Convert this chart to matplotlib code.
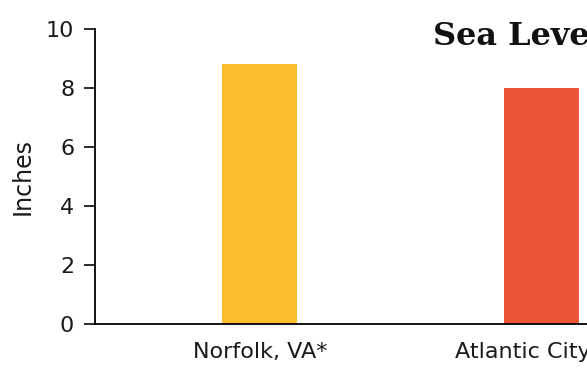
import matplotlib
matplotlib.use('Agg')
import matplotlib.pyplot as plt

# Data
cities = ['Norfolk, VA*', 'Atlantic City, NJ']
rise = [8.8, 8.0]
colors = ['#FDBE2E', '#EC5538']

fig = plt.figure(figsize=(5.87, 3.75), dpi=100)
ax = fig.add_axes([0.1618, 0.136, 1.041, 0.7867])

x = range(len(cities))
ax.bar(x, rise, width=0.266, color=colors)

ax.set_xlim(-0.586, 1.586)
ax.set_ylim(0, 10)
ax.set_yticks([0, 2, 4, 6, 8, 10])
ax.set_xticks(list(x))
ax.set_xticklabels(cities)

ax.spines['top'].set_visible(False)
ax.spines['right'].set_visible(False)
ax.spines['left'].set_linewidth(1.3)
ax.spines['bottom'].set_linewidth(1.3)
ax.tick_params(axis='y', length=8, width=1.3, pad=7, labelsize=16, colors='#1a1a1a')
ax.tick_params(axis='x', length=0, pad=13, labelsize=16, colors='#1a1a1a')
ax.set_ylabel('Inches', fontsize=17, color='#1a1a1a', labelpad=8)

fig.text(433 / 587, 1 - 45 / 375, 'Sea Level Rise', fontsize=23, fontweight='bold',
         family='DejaVu Serif', color='#111111', va='baseline', ha='left')

fig.savefig('out.png', dpi=100)
